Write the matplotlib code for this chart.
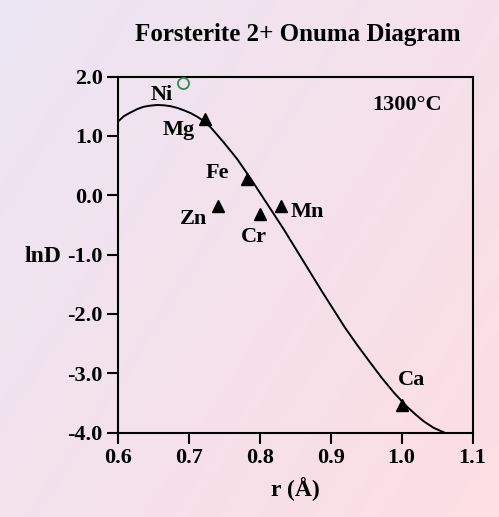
import numpy as np
import matplotlib
matplotlib.use('Agg')
import matplotlib.pyplot as plt
from matplotlib.ticker import FixedLocator, FormatStrFormatter

plt.rcParams['font.family'] = ['Liberation Serif', 'DejaVu Serif']
plt.rcParams['font.weight'] = 'bold'
plt.rcParams['axes.unicode_minus'] = False

# measured partition coefficients (triangles)
elements = ['Mg', 'Fe', 'Zn', 'Cr', 'Mn', 'Ca']
radius = [0.722, 0.782, 0.741, 0.800, 0.830, 1.000]
lnD = [1.28, 0.28, -0.19, -0.32, -0.19, -3.54]

# Ni plotted as open circle
ni_r, ni_lnD = 0.691, 1.885

# fitted curve
curve_r = [0.600, 0.608, 0.617, 0.627, 0.636, 0.646, 0.655, 0.665, 0.674, 0.684,
           0.693, 0.703, 0.712, 0.722, 0.731, 0.749, 0.768, 0.787, 0.810, 0.834,
           0.852, 0.870, 0.887, 0.904, 0.920, 0.937, 0.955, 0.972, 0.990, 1.008,
           1.020, 1.031, 1.045, 1.060]
curve_lnD = [1.24, 1.33, 1.39, 1.45, 1.49, 1.51, 1.52, 1.515, 1.50, 1.47,
             1.43, 1.38, 1.32, 1.24, 1.14, 0.89, 0.61, 0.28, -0.14, -0.58,
             -0.93, -1.28, -1.61, -1.93, -2.23, -2.52, -2.81, -3.08, -3.34, -3.57,
             -3.70, -3.81, -3.92, -4.00]

# label positions for each element (data coords)
label_pos = {'Ni': (0.662, 1.69), 'Mg': (0.685, 1.10), 'Fe': (0.740, 0.37),
             'Zn': (0.706, -0.40), 'Cr': (0.792, -0.71), 'Mn': (0.867, -0.29),
             'Ca': (1.014, -3.12)}

xticks = [0.6, 0.7, 0.8, 0.9, 1.0, 1.1]
yticks = [-4.0, -3.0, -2.0, -1.0, 0.0, 1.0, 2.0]

fig = plt.figure(figsize=(4.99, 5.17), dpi=100)

# soft lavender -> pink background
bg = fig.add_axes([0, 0, 1, 1])
bg.set_axis_off()
h, w = 100, 100
yy, xx = np.mgrid[0:1:h * 1j, 0:1:w * 1j]
t = np.clip(0.6 * xx + 0.4 * yy, 0, 1)[..., None]
c0 = np.array([235, 229, 243]) / 255.0
c1 = np.array([253, 222, 227]) / 255.0
bg.imshow(c0 * (1 - t) + c1 * t, aspect='auto', extent=[0, 1, 0, 1], origin='upper')

ax = fig.add_axes([0.2365, 0.1634, 0.7105, 0.6886])
ax.set_facecolor('none')

ax.plot(curve_r, curve_lnD, color='black', lw=1.4, zorder=2)
ax.plot(radius, lnD, linestyle='none', marker='^', ms=9, color='black', zorder=3)
ax.plot([ni_r], [ni_lnD], linestyle='none', marker='o', ms=8, mfc='none',
        mec='#2e8b57', mew=1.3, zorder=3, clip_on=False)

for name, (lx, ly) in label_pos.items():
    ax.text(lx, ly, name, fontsize=16, fontweight='bold', ha='center', va='center')

ax.text(1.007, 1.52, '1300°C', fontsize=16, fontweight='bold', ha='center', va='center')

ax.set_xlim(0.6, 1.1)
ax.set_ylim(-4.0, 2.0)
ax.xaxis.set_major_locator(FixedLocator(xticks))
ax.yaxis.set_major_locator(FixedLocator(yticks))
ax.xaxis.set_major_formatter(FormatStrFormatter('%.1f'))
ax.yaxis.set_major_formatter(FormatStrFormatter('%.1f'))
ax.tick_params(direction='out', length=8, width=1.5, labelsize=16, pad=3)
for s in ax.spines.values():
    s.set_linewidth(1.5)

ax.set_xlabel('r (Å)', fontsize=17, fontweight='bold', labelpad=7)
ax.text(-0.213, 0.495, 'lnD', transform=ax.transAxes, fontsize=17, fontweight='bold',
        ha='center', va='center')

fig.text(0.596, 0.934, 'Forsterite 2+ Onuma Diagram', fontsize=18, fontweight='bold',
         ha='center', va='center')

fig.savefig('out.png', dpi=100)
